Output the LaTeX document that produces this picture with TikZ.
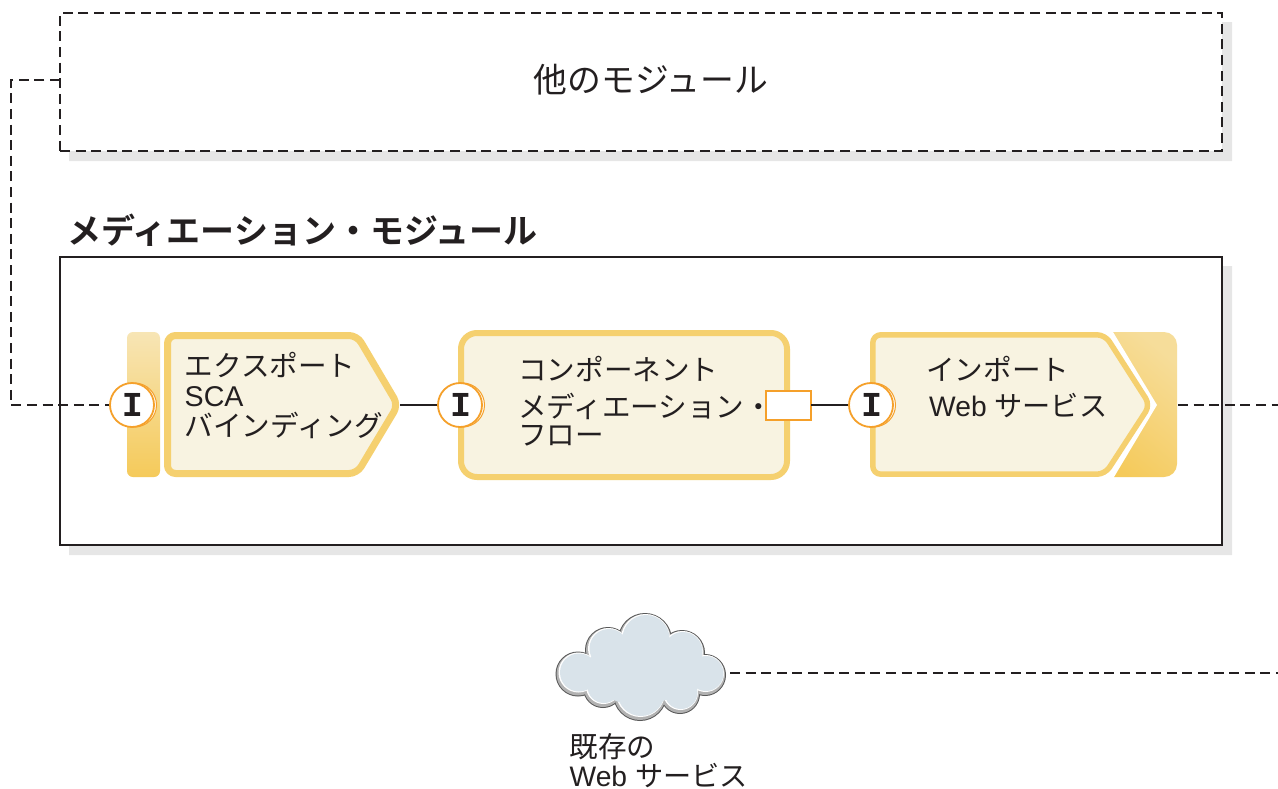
\documentclass[tikz,border=0pt]{standalone}
\usepackage{fontspec}
\setmainfont{Liberation Sans}
\newfontfamily\cjk{Noto Sans CJK JP}
\newfontfamily\cjkb{Noto Sans CJK JP Bold}
\newfontfamily\monob{Liberation Mono Bold}
\definecolor{ink}{HTML}{231F20}
\definecolor{shadowgray}{HTML}{E6E6E6}
\definecolor{goldline}{HTML}{F5D06F}
\definecolor{goldlight}{HTML}{F7E5B5}
\definecolor{golddark}{HTML}{F5CA5A}
\definecolor{cream}{HTML}{F8F3E1}
\definecolor{portorange}{HTML}{F5A02A}
\definecolor{cloudblue}{HTML}{D9E3EA}
\tikzset{
  x=1pt,y=-1pt,
  dashline/.style={draw=ink,line width=1.5pt,dash pattern=on 10pt off 5.6pt},
  solidline/.style={draw=ink,line width=1.5pt},
  goldbody/.style={draw=goldline,fill=cream,line join=round},
  porthalo/.style={circle,draw=portorange,line width=1pt,fill=white,minimum size=44pt,inner sep=0pt},
  port/.style={circle,draw=portorange,line width=1.8pt,fill=white,minimum size=44pt,inner sep=0pt,
    font=\monob\fontsize{35}{35}\selectfont,text=ink},
  label/.style={anchor=west,inner sep=0pt,align=left,text=ink,font=\fontsize{28.6}{30}\selectfont},
  webline/.style={anchor=west,inner sep=0pt,align=left,text=ink,font=\fontsize{28.2}{30}\selectfont},
  heading/.style={inner sep=0pt,text=ink},
}
\begin{document}
\begin{tikzpicture}
\useasboundingbox (0,0) rectangle (1278,788);
% shadows
\fill[shadowgray] (69,151) -- (1222,151) -- (1222,22) -- (1232,22) -- (1232,161) -- (69,161) -- cycle;
\fill[shadowgray] (69,545) -- (1222,545) -- (1222,266) -- (1232,266) -- (1232,555) -- (69,555) -- cycle;
% other module
\node[dashline,minimum width=1162pt,minimum height=138pt,inner sep=0pt,outer sep=0pt,anchor=north west] (other) at (60,13) {};
\node[heading,font=\fontsize{33.8}{36}\selectfont] (othertext) at (651,80) {\cjk 他のモジュール};
% mediation module
\node[draw=ink,line width=1.5pt,fill=white,minimum width=1162pt,minimum height=288pt,inner sep=0pt,outer sep=0pt,anchor=north west] (module) at (60,257) {};
\node[heading,anchor=west,font=\fontsize{34}{36}\selectfont] (title) at (67,230) {\cjkb メディエーション・モジュール};
% export
\shade[top color=goldlight,bottom color=golddark,rounded corners=6pt] (127,332) rectangle (160,477);
\draw[goldbody,line width=7pt,rounded corners=8pt] (167.5,335.5) -- (357,335.5) -- (398,405) -- (357,473.5) -- (167.5,473.5) -- cycle;
\coordinate (exporttip) at (400,405);
\node[label] (exporttext) at (184.5,395) {\cjk エクスポート\\SCA\\\cjk バインディング};
% component
\draw[goldbody,line width=6pt,rounded corners=16pt] (461,333) rectangle (787,477);
\node[label] (comptext1) at (518,369) {\cjk コンポーネント};
\node[label] (comptext2) at (518,406) {\cjk メディエーション・};
\node[label] (comptext3) at (518,436) {\cjk フロー};
\node[draw=portorange,line width=2pt,fill=white,minimum width=45pt,minimum height=29pt,inner sep=0pt,outer sep=0pt] (ref) at (788.5,405) {};
% import
\shade[top color=goldlight!70!golddark,bottom color=golddark,shading angle=-40,rounded corners=13pt]
  (1090,332) -- (1177,332) -- (1177,477) -- (1090,477) -- cycle;
\fill[white] (1085,328) -- (1113,328) -- (1113,332) -- (1157,405) -- (1114,477) -- (1114,481) -- (1085,481) -- cycle;
\draw[goldbody,line width=5.5pt,rounded corners=8pt] (872.8,334.8) -- (1105,334.8) -- (1150,405) -- (1105,474.2) -- (872.8,474.2) -- cycle;
\node[label] (imptext1) at (926,369) {\cjk インポート};
\node[webline] (imptext2) at (929,406) {Web {\cjk サービス}};
\coordinate (impright) at (1178,405);
% ports
\foreach \n/\x in {a/132,b/460,c/871}{
  \node[porthalo] (halo\n) at (\x+2.5,405) {};
}
\node[port] (p1) at (132,405) {\hspace*{1pt}I};
\node[port] (p2) at (460,405) {\hspace*{1pt}I};
\node[port] (p3) at (871,405) {\hspace*{1pt}I};
% connectors
\draw[solidline] (exporttip) -- (p2);
\draw[solidline] (ref) -- (p3);
\coordinate (lefttop) at (11,80);
\coordinate (leftbottom) at (11,405);
\coordinate (rightend) at (1278,405);
\coordinate (cloudend) at (1278,673);
\coordinate (cloudeast) at (730,673);
\draw[dashline] (other.west |- lefttop) -- (lefttop) -- (leftbottom) -- (p1);
\draw[dashline] (impright) -- (rightend);
\draw[dashline] (cloudeast) -- (cloudend);
% cloud
\def\lobes{578/674/22.5,608/650/23,645/640/27,682/653/23,705/675/21,603/688/20,640/694/27,680/694/20}
\foreach \x/\y/\r in \lobes{\fill[black!65] (\x,\y) circle[radius=\r*1pt];}
\foreach \x/\y/\r in \lobes{\fill[black!30] (\x,\y) circle[radius=\r*1pt-1pt];}
\foreach \x/\y/\r in \lobes{\fill[white] (\x+0.5,\y-1.5) circle[radius=\r*1pt-2.5pt];}
\foreach \x/\y/\r in \lobes{\fill[cloudblue] (\x+1,\y-1.5) circle[radius=\r*1pt-3.5pt];}
\fill[cloudblue] (591,657) -- (621,638) -- (669,639) -- (699,659) -- (690,691) -- (660,702) -- (619,702) -- (590,691) -- cycle;
\node[label] (cloudtext1) at (569.5,746.5) {\cjk 既存の};
\node[webline] (cloudtext2) at (569.5,775.5) {Web {\cjk サービス}};
\end{tikzpicture}
\end{document}
